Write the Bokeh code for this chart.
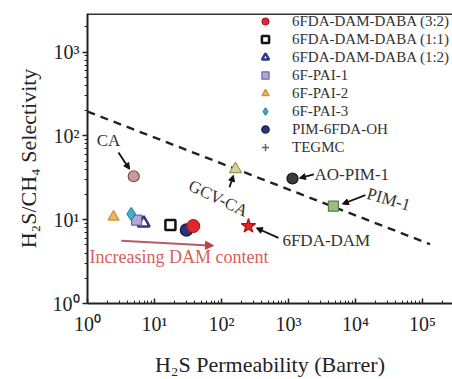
from bokeh.plotting import figure
from bokeh.models import (Range1d, Span, Legend, LegendItem, Arrow, NormalHead,
                          CustomJSTickFormatter, ColumnDataSource)
from bokeh.core.properties import value
from bokeh.embed import file_html
from bokeh.resources import INLINE

SERIF = "Liberation Serif"
NAN = float("nan")

# ---- data (H2S permeability [Barrer], H2S/CH4 selectivity) ----
legend_series = [
    "6FDA-DAM-DABA (3:2)", "6FDA-DAM-DABA (1:1)", "6FDA-DAM-DABA (1:2)",
    "6F-PAI-1", "6F-PAI-2", "6F-PAI-3", "PIM-6FDA-OH", "TEGMC",
]
daba_32_x = [38]
daba_32_y = [8.4]
daba_11_x = [17.3]
daba_11_y = [8.65]
daba_12_x = [6.9]
daba_12_y = [9.1]
pai1_x = [5.4]
pai1_y = [9.9]
pai2_x = [2.45]
pai2_y = [10.8]
pai3_x = [4.5]
pai3_y = [11.7]
pim_oh_x = [30]
pim_oh_y = [7.55]
tegmc_x = [NAN]   # legend entry only, no visible point in the chart
tegmc_y = [NAN]

ref_names = ["CA", "GCV-CA", "AO-PIM-1", "PIM-1", "6FDA-DAM"]
ref_x = [4.9, 162, 1150, 4700, 253]
ref_y = [33, 40, 31, 14.5, 8.4]

# upper bound line (two end points)
bound_x = [1, 1.3e5]
bound_y = [195, 5.1]

X_MAX = 10 ** 5.45
Y_MAX = 10 ** 3.46

p = figure(width=452, height=379, x_axis_type="log", y_axis_type="log",
           x_range=Range1d(1, X_MAX), y_range=Range1d(1, Y_MAX),
           output_backend="svg", toolbar_location=None,
           min_border_left=87, min_border_right=0, min_border_top=13,
           min_border_bottom=74)
p.outline_line_color = None
p.grid.visible = False
p.background_fill_color = "white"

fmt = CustomJSTickFormatter(code="""
const sup = {'0':'\u2070','1':'\u00b9','2':'\u00b2','3':'\u00b3','4':'\u2074','5':'\u2075','-':'\u207b'};
const e = Math.round(Math.log10(tick));
return '10' + String(e).split('').map(c => sup[c]).join('');
""")

for ax in (p.xaxis[0], p.yaxis[0]):
    ax.formatter = fmt
    ax.axis_line_width = 2
    ax.axis_line_color = "#222222"
    ax.major_tick_line_color = "#222222"
    ax.minor_tick_line_color = "#222222"
    ax.major_tick_line_width = 1.5
    ax.major_label_text_font = SERIF
    ax.major_label_text_font_size = "20px"
    ax.major_label_text_color = "#222222"
    ax.axis_label_text_font = SERIF
    ax.axis_label_text_font_size = "22px"
    ax.axis_label_text_font_style = "normal"
    ax.axis_label_text_color = "#222222"

p.xaxis.major_tick_in = 5
p.xaxis.major_tick_out = 0
p.xaxis.minor_tick_in = 3
p.xaxis.minor_tick_out = 0
p.xaxis.major_label_standoff = 9
p.xaxis.axis_label = "H\u2082S Permeability (Barrer)"
p.xaxis.axis_label_standoff = 14

p.yaxis.major_tick_in = 0
p.yaxis.major_tick_out = 5
p.yaxis.minor_tick_in = 0
p.yaxis.minor_tick_out = 3
p.yaxis.major_label_standoff = 3
p.yaxis.axis_label = "H\u2082S/CH\u2084 Selectivity"
p.yaxis.axis_label_standoff = 9

# top frame border
p.add_layout(Span(location=Y_MAX, dimension="width", line_width=3, line_color="#333333"))

# dashed upper bound
p.line(bound_x, bound_y, line_dash="8 6", line_width=2.4, color="#222222")

# reference materials
ref_colors = ["#c89a9a", "#d8d49a", "#3a3a3a", "#9cbc80", "#e02828"]
ref_lines = ["#7a4a4a", "#9a9450", "#111111", "#5a7a40", "#b01010"]
ref_markers = ["circle", "triangle", "circle", "square", "star"]
ref_sizes = [11, 12, 11, 10, 15]
for i in range(len(ref_names)):
    p.scatter([ref_x[i]], [ref_y[i]], marker=ref_markers[i], size=ref_sizes[i],
              fill_color=ref_colors[i], line_color=ref_lines[i], line_width=1.2)

# legend series
r_oh = p.scatter(pim_oh_x, pim_oh_y, marker="circle", size=12, fill_color="#2c3478",
                 line_color="#1a2058", line_width=1.5)
r_32 = p.scatter(daba_32_x, daba_32_y, marker="circle", size=13, fill_color="#e0262e",
                 line_color="#a81018", line_width=1)
r_11 = p.scatter(daba_11_x, daba_11_y, marker="square", size=10, fill_color="white",
                 line_color="#111111", line_width=2.5)
r_12 = p.scatter(daba_12_x, daba_12_y, marker="triangle", size=12, fill_color="white",
                 line_color="#2c3a88", line_width=2.5)
r_p1 = p.scatter(pai1_x, pai1_y, marker="square", size=10, fill_color="#b4a6d6",
                 line_color="#7464a4", line_width=1.2)
r_p2 = p.scatter(pai2_x, pai2_y, marker="triangle", size=11, fill_color="#ecb45a",
                 line_color="#d09034", line_width=1.2)
r_p3 = p.scatter(pai3_x, pai3_y, marker="diamond", size=13, fill_color="#46aec8",
                 line_color="#2a8aa8", line_width=1.2)
r_tg = p.scatter(tegmc_x, tegmc_y, marker="cross", size=10, line_color="#666666",
                 line_width=1.5)

renderers = [r_32, r_11, r_12, r_p1, r_p2, r_p3, r_oh, r_tg]
legend = Legend(items=[LegendItem(label=legend_series[i], renderers=[renderers[i]])
                       for i in range(len(renderers))],
                location=(168, 147), glyph_width=20, glyph_height=18, label_height=18,
                spacing=0, padding=0, margin=0, label_standoff=17,
                background_fill_alpha=0, border_line_alpha=0,
                label_text_font=SERIF, label_text_font_size="15px",
                label_text_color="#333333")
p.add_layout(legend)

# annotation labels for reference materials
lab_x = [2.06, 90, 2450, 15100, 813]
lab_y = [88, 18, 34.8, 20.7, 5.6]
lab_angle = [0, -0.45, 0, -0.28, 0]
lab_align = ["center", "center", "left", "left", "left"]
lab_src = ColumnDataSource(dict(x=lab_x, y=lab_y, t=ref_names, a=lab_angle, al=lab_align))
p.text(x="x", y="y", text="t", angle="a", text_align="al", text_baseline="middle",
       source=lab_src, text_font=value(SERIF), text_font_size=value("17px"),
       text_color="#333333")

arr_x0 = [2.9, 132, 2400, 14100, 709]
arr_y0 = [63.5, 24.4, 34.8, 19.6, 6.07]
arr_x1 = [4.24, 151, 1460, 6400, 332]
arr_y1 = [40, 33.9, 31.3, 15.4, 7.96]
for i in range(len(arr_x0)):
    p.add_layout(Arrow(end=NormalHead(size=6, fill_color="#111111", line_color="#111111"),
                       x_start=arr_x0[i], y_start=arr_y0[i], x_end=arr_x1[i], y_end=arr_y1[i],
                       line_width=1.8, line_color="#111111"))

# trend arrow
trend_x = [3.2, 76]
trend_y = [5.6, 4.9]
p.add_layout(Arrow(end=NormalHead(size=8, fill_color="#c0404a", line_color="#c0404a"),
                   x_start=trend_x[0], y_start=trend_y[0], x_end=trend_x[1], y_end=trend_y[1],
                   line_width=2, line_color="#b85a66"))
p.text(x=[1.07], y=[3.55], text=["Increasing DAM content"], text_align="left",
       text_baseline="middle", text_font=value(SERIF), text_font_size=value("18px"),
       text_color="#d4605c")

open("out.html", "w").write(file_html(p, INLINE))
